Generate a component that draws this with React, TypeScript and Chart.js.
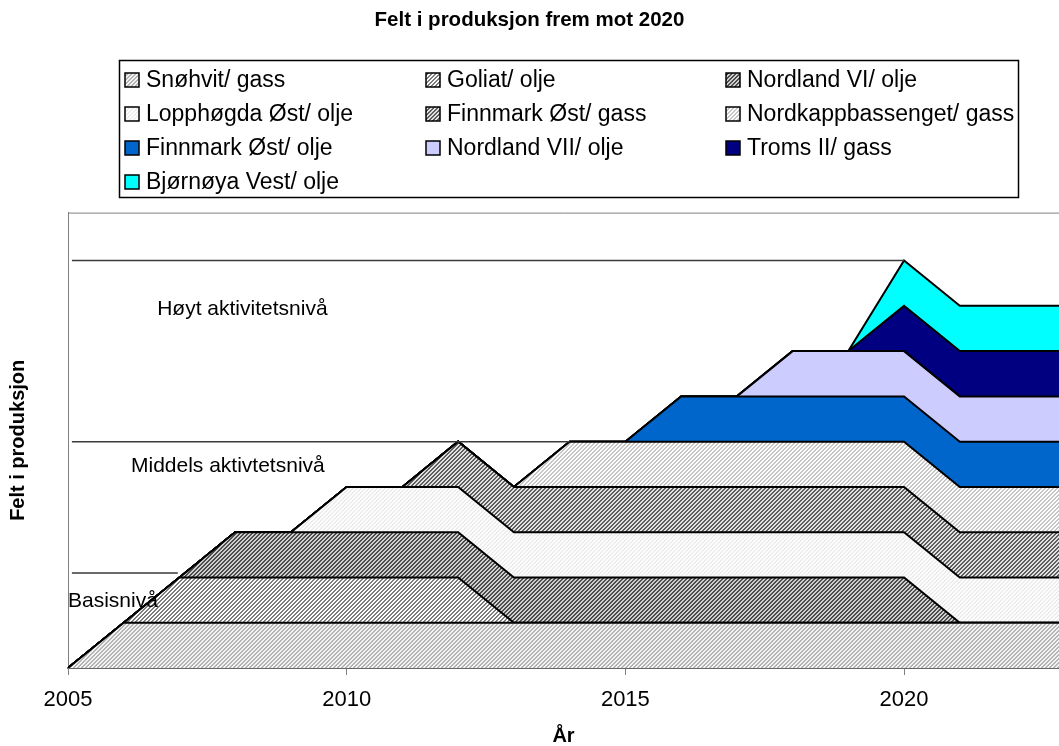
import React, { useEffect, useRef } from 'react';
import { Chart, registerables } from 'chart.js';

Chart.register(...registerables);

const FONT = "'Liberation Sans', Arial, sans-serif";

const YEARS = [2005, 2006, 2007, 2008, 2009, 2010, 2011, 2012, 2013, 2014, 2015, 2016, 2017, 2018, 2019, 2020, 2021, 2022, 2023, 2024, 2025];
const TICK_YEARS = [2005, 2010, 2015, 2020];
const X_MIN = 2005;
const X_MAX = 2022.78;
const Y_MAX = 10.06;

const SERIES_NAMES = [
  'Snøhvit/ gass',
  'Goliat/ olje',
  'Nordland VI/ olje',
  'Lopphøgda Øst/ olje',
  'Finnmark Øst/ gass',
  'Nordkappbassenget/ gass',
  'Finnmark Øst/ olje',
  'Nordland VII/ olje',
  'Troms II/ gass',
  'Bjørnøya Vest/ olje',
];

const SNOHVIT = [0, 1, 1, 1, 1, 1, 1, 1, 1, 1, 1, 1, 1, 1, 1, 1, 1, 1, 1, 1, 1];
const GOLIAT = [0, 0, 1, 1, 1, 1, 1, 1, 0, 0, 0, 0, 0, 0, 0, 0, 0, 0, 0, 0, 0];
const NORDLAND_VI = [0, 0, 0, 1, 1, 1, 1, 1, 1, 1, 1, 1, 1, 1, 1, 1, 0, 0, 0, 0, 0];
const LOPPHOGDA = [0, 0, 0, 0, 0, 1, 1, 1, 1, 1, 1, 1, 1, 1, 1, 1, 1, 1, 1, 1, 1];
const FINNMARK_GASS = [0, 0, 0, 0, 0, 0, 0, 1, 1, 1, 1, 1, 1, 1, 1, 1, 1, 1, 1, 1, 1];
const NORDKAPP = [0, 0, 0, 0, 0, 0, 0, 0, 0, 1, 1, 1, 1, 1, 1, 1, 1, 1, 1, 1, 1];
const FINNMARK_OLJE = [0, 0, 0, 0, 0, 0, 0, 0, 0, 0, 0, 1, 1, 1, 1, 1, 1, 1, 1, 1, 1];
const NORDLAND_VII = [0, 0, 0, 0, 0, 0, 0, 0, 0, 0, 0, 0, 0, 1, 1, 1, 1, 1, 1, 1, 1];
const TROMS_II = [0, 0, 0, 0, 0, 0, 0, 0, 0, 0, 0, 0, 0, 0, 0, 1, 1, 1, 1, 1, 1];
const BJORNOYA = [0, 0, 0, 0, 0, 0, 0, 0, 0, 0, 0, 0, 0, 0, 0, 1, 1, 1, 1, 1, 1];

const SERIES_VALUES = [SNOHVIT, GOLIAT, NORDLAND_VI, LOPPHOGDA, FINNMARK_GASS, NORDKAPP, FINNMARK_OLJE, NORDLAND_VII, TROMS_II, BJORNOYA];

// fill styles: hatch = [background, stripe] or solid colour
const FILLS: (string | [string, string])[] = [
  ['#f4f4f4', '#b4b4b4'],
  ['#ffffff', '#7c7c7c'],
  ['#cfcfcf', '#4c4c4c'],
  ['#ffffff', '#ececec'],
  ['#e2e2e2', '#5e5e5e'],
  ['#ffffff', '#c6c6c6'],
  '#0066CC',
  '#CCCCFF',
  '#000080',
  '#00FFFF',
];

// reference level annotations (data units)
const LEVEL_LINES = [
  { x0: 2005.07, x1: 2020, y: 9 },
  { x0: 2005.07, x1: 2014, y: 5 },
  { x0: 2005.07, x1: 2006.97, y: 2.1 },
];
const LEVEL_LABELS = [
  { text: 'Høyt aktivitetsnivå', x: 2006.6, y: 7.92 },
  { text: 'Middels aktivtetsnivå', x: 2006.13, y: 4.45 },
  { text: 'Basisnivå', x: 2005.0, y: 1.47 },
];

function makeHatch(bg: string, fg: string): CanvasPattern | string {
  const c = document.createElement('canvas');
  c.width = 8;
  c.height = 8;
  const g = c.getContext('2d');
  if (!g) return bg;
  g.fillStyle = bg;
  g.fillRect(0, 0, 8, 8);
  g.fillStyle = fg;
  for (let y = 0; y < 8; y++) {
    for (let x = 0; x < 8; x++) {
      const k = (x + y) % 4;
      if (k === 0 || k === 1) g.fillRect(x, y, 1, 1);
    }
  }
  const p = g.createPattern(c, 'repeat');
  return p || bg;
}

const legendBoxPlugin = {
  id: 'legendBox',
  afterDraw(chart: any) {
    const ctx = chart.ctx as CanvasRenderingContext2D;
    ctx.save();
    ctx.strokeStyle = '#000';
    ctx.lineWidth = 1.5;
    ctx.strokeRect(119.5, 60.5, 899, 137);
    const colX = [125, 426, 726];
    const rowY = [80, 114, 148, 182];
    ctx.font = `23px ${FONT}`;
    ctx.textBaseline = 'middle';
    ctx.textAlign = 'left';
    chart.data.datasets.forEach((ds: any, i: number) => {
      const cx = colX[i % 3];
      const cy = rowY[Math.floor(i / 3)];
      ctx.fillStyle = ds.backgroundColor;
      ctx.fillRect(cx, cy - 7, 14, 14);
      ctx.strokeStyle = '#000';
      ctx.lineWidth = 1.5;
      ctx.strokeRect(cx, cy - 7, 14, 14);
      ctx.fillStyle = '#000';
      ctx.fillText(ds.label, cx + 21, cy + 1);
    });
    ctx.restore();
  },
};

const annotationPlugin = {
  id: 'levels',
  afterDatasetsDraw(chart: any) {
    const ctx = chart.ctx as CanvasRenderingContext2D;
    const xs = chart.scales.x;
    const ys = chart.scales.y;
    const area = chart.chartArea;
    ctx.save();
    // top frame line
    ctx.strokeStyle = '#808080';
    ctx.lineWidth = 1;
    ctx.beginPath();
    ctx.moveTo(area.left, area.top + 0.5);
    ctx.lineTo(area.right, area.top + 0.5);
    ctx.stroke();
    ctx.strokeStyle = '#3a3a3a';
    ctx.lineWidth = 1.5;
    LEVEL_LINES.forEach((l) => {
      const y = ys.getPixelForValue(l.y);
      ctx.beginPath();
      ctx.moveTo(xs.getPixelForValue(l.x0), y);
      ctx.lineTo(xs.getPixelForValue(l.x1), y);
      ctx.stroke();
    });
    ctx.fillStyle = '#000';
    ctx.font = `21px ${FONT}`;
    ctx.textAlign = 'left';
    ctx.textBaseline = 'middle';
    LEVEL_LABELS.forEach((t) => {
      ctx.fillText(t.text, xs.getPixelForValue(t.x), ys.getPixelForValue(t.y));
    });
    ctx.restore();
  },
};

export default function App() {
  const ref = useRef<HTMLCanvasElement>(null);

  useEffect(() => {
    const canvas = ref.current;
    if (!canvas) return;
    Chart.defaults.font.family = FONT;
    const datasets = SERIES_VALUES.map((vals, i) => {
      const f = FILLS[i];
      const bg = typeof f === 'string' ? f : makeHatch(f[0], f[1]);
      return {
        label: SERIES_NAMES[i],
        data: YEARS.map((yr, j) => ({ x: yr, y: vals[j] })),
        backgroundColor: bg,
        borderColor: '#000000',
        borderWidth: 2,
        pointRadius: 0,
        pointHoverRadius: 0,
        tension: 0,
        fill: i === 0 ? 'origin' : '-1',
      };
    });

    const chart = new Chart(canvas, {
      type: 'line',
      data: { datasets } as any,
      options: {
        animation: false,
        responsive: false,
        devicePixelRatio: 1,
        layout: { padding: 0 },
        plugins: {
          legend: { display: false },
          tooltip: { enabled: false },
          title: {
            display: true,
            text: 'Felt i produksjon frem mot 2020',
            color: '#000',
            font: { size: 20.5, weight: 'bold', family: FONT },
            padding: { top: 8, bottom: 180 },
          },
        },
        scales: {
          x: {
            type: 'linear',
            min: X_MIN,
            max: X_MAX,
            afterBuildTicks: (s: any) => {
              s.ticks = TICK_YEARS.map((v) => ({ value: v }));
            },
            afterFit: (s: any) => {
              s.height = 78;
            },
            ticks: {
              callback: (v: any) => String(v),
              color: '#000',
              font: { size: 22, family: FONT },
              padding: 12,
              maxRotation: 0,
              autoSkip: false,
            },
            grid: {
              display: true,
              drawOnChartArea: false,
              drawTicks: true,
              tickLength: 7,
              color: '#808080',
            },
            border: { display: true, color: '#666666', width: 2 },
            title: {
              display: true,
              text: 'År',
              color: '#000',
              font: { size: 20, weight: 'bold', family: FONT, lineHeight: 1 },
              padding: { top: 0, bottom: 0 },
            },
          },
          y: {
            type: 'linear',
            stacked: true,
            min: 0,
            max: Y_MAX,
            afterFit: (s: any) => {
              s.width = 68;
            },
            ticks: { display: false },
            grid: { display: false },
            border: { display: true, color: '#808080', width: 1 },
            title: {
              display: true,
              text: 'Felt i produksjon',
              color: '#000',
              font: { size: 20, weight: 'bold', family: FONT },
              padding: { top: 6, bottom: 0 },
            },
          },
        },
      } as any,
      plugins: [annotationPlugin, legendBoxPlugin],
    });

    return () => chart.destroy();
  }, []);

  return (
    <div style={{ position: 'absolute', left: 0, top: 0, width: 1059, height: 746, overflow: 'hidden', background: '#fff' }}>
      <canvas ref={ref} width={1059} height={746} style={{ display: 'block', width: 1059, height: 746 }} />
    </div>
  );
}
